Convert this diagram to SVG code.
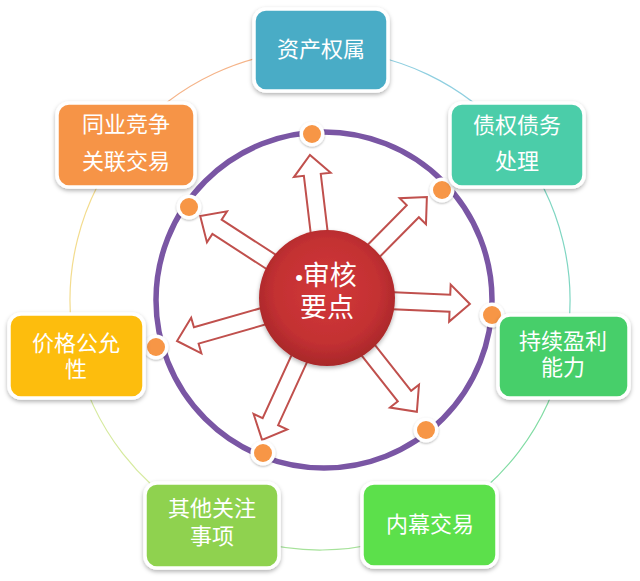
<svg xmlns="http://www.w3.org/2000/svg" width="640" height="581" viewBox="0 0 640 581">
<style>
.box{stroke:#fff;stroke-width:3.5;filter:url(#sh)}
.t{font-family:"Liberation Sans","Noto Sans CJK SC","Noto Sans CJK TC",sans-serif;font-size:22px;fill:#fff;text-anchor:middle}
.ct{font-family:"Liberation Sans","Noto Sans CJK SC",sans-serif;font-size:27px;fill:#fff;text-anchor:middle}
.arr{fill:#fff;stroke:#c0504d;stroke-width:2;stroke-linejoin:miter}
.oc{fill:none;stroke-width:1.2}
.dotw{fill:#fff;filter:url(#sh2)}
.dot{fill:#f79646}
</style>
<defs>
<filter id="sh" x="-20%" y="-20%" width="140%" height="150%">
<feDropShadow dx="0" dy="2" stdDeviation="2" flood-color="#000" flood-opacity="0.3"/>
</filter>
<filter id="sh2" x="-50%" y="-50%" width="200%" height="200%">
<feDropShadow dx="0" dy="1" stdDeviation="1.2" flood-color="#000" flood-opacity="0.3"/>
</filter>
<radialGradient id="rg" cx="0.5" cy="0.45" r="0.55">
<stop offset="0" stop-color="#d2393a"/>
<stop offset="0.7" stop-color="#c33032"/>
<stop offset="1" stop-color="#a8282a"/>
</radialGradient>
</defs>
<g id="connectors">
<path class="oc" stroke="#f5b489" d="M128.5,139.3 A250,250 0 0 1 320,50"/>
<path class="oc" stroke="#8fcfe0" d="M320,50 A250,250 0 0 1 514.3,142.7"/>
<path class="oc" stroke="#7fd6c2" d="M514.3,142.7 A250,250 0 0 1 564.9,350.3"/>
<path class="oc" stroke="#82dca4" d="M564.9,350.3 A250,250 0 0 1 433.5,522.8"/>
<path class="oc" stroke="#a6e29a" d="M433.5,522.8 A250,250 0 0 1 210.4,524.7"/>
<path class="oc" stroke="#d6ea9e" d="M210.4,524.7 A250,250 0 0 1 75.5,352"/>
<path class="oc" stroke="#f3dc8e" d="M75.5,352 A250,250 0 0 1 128.5,139.3"/>
<circle cx="324" cy="300" r="168" fill="none" stroke="#7a56a4" stroke-width="5.5"/>
<g transform="translate(327,298) rotate(-96.8)"><polygon class="arr" points="55,-8.5 124,-8.5 124,-18.5 144,0 124,18.5 124,8.5 55,8.5"/></g>
<g transform="translate(327,298) rotate(-45.3)"><polygon class="arr" points="55,-8.5 122,-8.5 122,-18.5 142,0 122,18.5 122,8.5 55,8.5"/></g>
<g transform="translate(327,298) rotate(2.4)"><polygon class="arr" points="55,-8.5 123,-8.5 123,-18.5 143,0 123,18.5 123,8.5 55,8.5"/></g>
<g transform="translate(327,298) rotate(51.7)"><polygon class="arr" points="55,-8.5 125,-8.5 125,-18.5 145,0 125,18.5 125,8.5 55,8.5"/></g>
<g transform="translate(327,298) rotate(114.6)"><polygon class="arr" points="55,-8.5 136,-8.5 136,-18.5 156,0 136,18.5 136,8.5 55,8.5"/></g>
<g transform="translate(327,298) rotate(164)"><polygon class="arr" points="55,-8.5 136,-8.5 136,-18.5 156,0 136,18.5 136,8.5 55,8.5"/></g>
<g transform="translate(327,298) rotate(-147.1)"><polygon class="arr" points="55,-8.5 131,-8.5 131,-18.5 151,0 131,18.5 131,8.5 55,8.5"/></g>
<circle class="dotw" cx="312" cy="134" r="12.5"/><circle class="dot" cx="312" cy="134" r="9"/>
<circle class="dotw" cx="442" cy="190" r="12.5"/><circle class="dot" cx="442" cy="190" r="9"/>
<circle class="dotw" cx="492" cy="315" r="12.5"/><circle class="dot" cx="492" cy="315" r="9"/>
<circle class="dotw" cx="426" cy="430" r="12.5"/><circle class="dot" cx="426" cy="430" r="9"/>
<circle class="dotw" cx="263" cy="453" r="12.5"/><circle class="dot" cx="263" cy="453" r="9"/>
<circle class="dotw" cx="156" cy="347" r="12.5"/><circle class="dot" cx="156" cy="347" r="9"/>
<circle class="dotw" cx="189" cy="207" r="12.5"/><circle class="dot" cx="189" cy="207" r="9"/>
</g>
<g id="center">
<circle cx="327" cy="298" r="68" fill="url(#rg)" filter="url(#sh)"/>
<text class="ct"><tspan x="326" y="285"><tspan font-size="22">•</tspan>审核</tspan><tspan x="327" y="317">要点</tspan></text>
</g>
<g id="n1"><rect class="box" x="254" y="9" width="134" height="82" rx="12" fill="#4aacc6"/><text class="t" x="321" y="57">资产权属</text></g>
<g id="n2"><rect class="box" x="450" y="103" width="134" height="84" rx="12" fill="#4bcda9"/><text class="t"><tspan x="517" y="133">债权债务</tspan><tspan x="517" y="169">处理</tspan></text></g>
<g id="n3"><rect class="box" x="57" y="103" width="138" height="84" rx="12" fill="#f69447"/><text class="t"><tspan x="126" y="132">同业竞争</tspan><tspan x="126" y="169">关联交易</tspan></text></g>
<g id="n4"><rect class="box" x="9" y="314" width="135" height="84" rx="12" fill="#fdbd0a"/><text class="t"><tspan x="76" y="351">价格公允</tspan><tspan x="76" y="377">性</tspan></text></g>
<g id="n5"><rect class="box" x="498" y="315" width="131" height="83" rx="12" fill="#47cf6a"/><text class="t"><tspan x="563" y="349">持续盈利</tspan><tspan x="563" y="375">能力</tspan></text></g>
<g id="n6"><rect class="box" x="145" y="483" width="134" height="85" rx="12" fill="#8fd24f"/><text class="t"><tspan x="212" y="516">其他关注</tspan><tspan x="212" y="544">事项</tspan></text></g>
<g id="n7"><rect class="box" x="362" y="483" width="135" height="84" rx="12" fill="#5ce04b"/><text class="t" x="430" y="532">内幕交易</text></g>
</svg>
